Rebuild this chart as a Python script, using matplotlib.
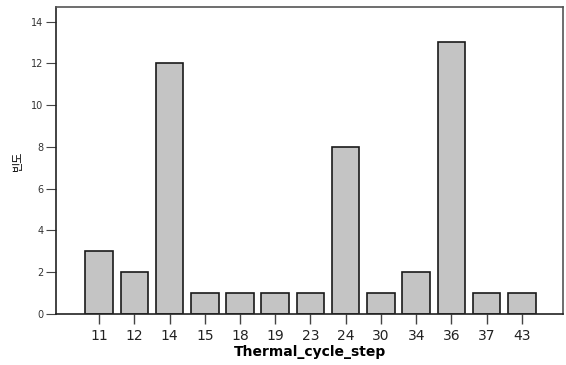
import numpy as np
import matplotlib
matplotlib.use("Agg")
import matplotlib.pyplot as plt

plt.rcParams['font.family'] = ['DejaVu Sans', 'Noto Sans CJK KR']

steps = ['11', '12', '14', '15', '18', '19', '23', '24', '30', '34', '36', '37', '43']
counts = [3, 2, 12, 1, 1, 1, 1, 8, 1, 2, 13, 1, 1]

fig = plt.figure(figsize=(5.66, 3.65), dpi=100)
ax = fig.add_axes([0.099, 0.14, 0.896, 0.841])

x = np.arange(len(steps))
ax.bar(x, counts, width=0.78, color='#c4c4c4', edgecolor='#1a1a1a', linewidth=1.2)

ax.set_xlim(-1.22, len(steps) - 1 + 1.17)
ax.set_ylim(0, 14.7)
ax.set_yticks(np.arange(0, 15, 2))
ax.set_xticks(x)
ax.set_xticklabels(steps, fontsize=10)
ax.tick_params(axis='y', labelsize=7, length=7, width=0.8, color='#444444', labelcolor='#333333', pad=2)
ax.tick_params(axis='x', length=7, width=1.0, color='#444444', labelcolor='#222222', pad=4)

for s in ax.spines.values():
    s.set_linewidth(1.2)
    s.set_color('#555555')
ax.spines['left'].set_color('#222222')
ax.spines['bottom'].set_color('#222222')

ax.set_xlabel('Thermal_cycle_step', fontsize=10, fontweight='bold', labelpad=1)
ax.set_ylabel('빈도', fontsize=8, family=['Noto Sans CJK KR', 'DejaVu Sans'], labelpad=6)

fig.savefig('out.png', dpi=100)
